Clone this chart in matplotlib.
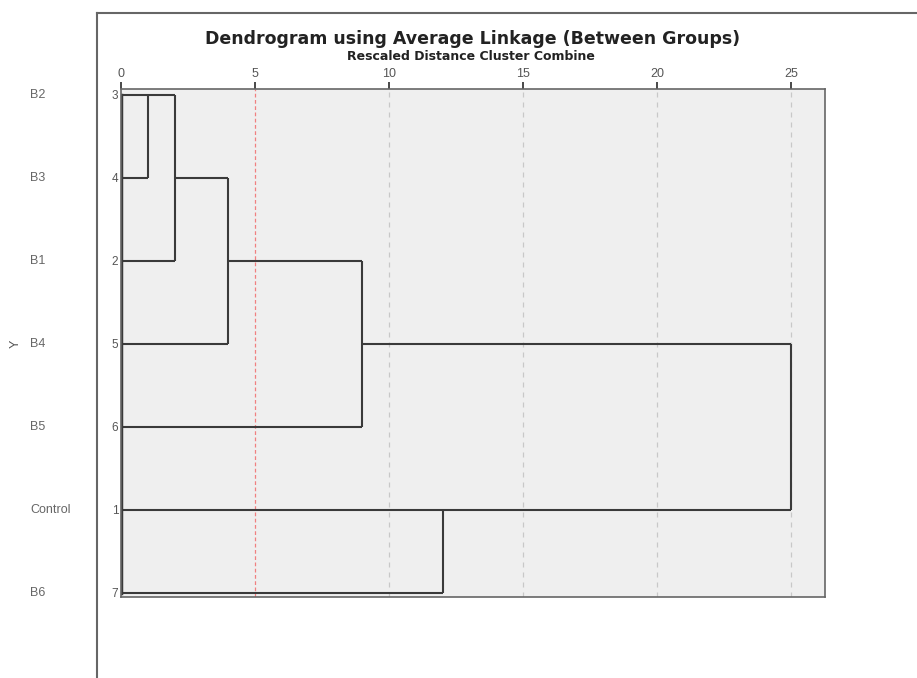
import matplotlib.pyplot as plt
import matplotlib.transforms as mtransforms
from matplotlib.lines import Line2D

# leaf order top to bottom
labels = ['B2', 'B3', 'B1', 'B4', 'B5', 'Control', 'B6']
case_nums = ['3', '4', '2', '5', '6', '1', '7']

# merges: height, rows joined, row where the new cluster continues
merge_height = [1, 2, 4, 9, 12, 25]
merge_top_row = [0, 0, 1, 2, 5, 3]
merge_bot_row = [1, 2, 3, 4, 6, 5]
merge_out_row = [0, 1, 2, 3, 5, 3]

x_ticks = [0, 5, 10, 15, 20, 25]

line_col = '#3a3a3a'
text_col = '#555555'
plt.rcParams['font.family'] = ['Liberation Sans', 'DejaVu Sans']

fig = plt.figure(figsize=(9.17, 6.78), dpi=100)
ax = fig.add_axes([121 / 917, 1 - 597 / 678, (825 - 121) / 917, (597 - 89) / 678])
ax.set_facecolor('#efefef')

# dendrogram lines
cur = [0.0] * len(labels)
for h, a, b, o in zip(merge_height, merge_top_row, merge_bot_row, merge_out_row):
    ax.plot([cur[a], h], [a, a], color=line_col, lw=1.5, solid_capstyle='butt')
    ax.plot([cur[b], h], [b, b], color=line_col, lw=1.5, solid_capstyle='butt')
    ax.plot([h, h], [a, b], color=line_col, lw=1.5, solid_capstyle='butt')
    cur[o] = h
ax.plot([0, 0], [0, len(labels) - 1], color=line_col, lw=2.5)

# grid and cut line
for t in x_ticks[2:]:
    ax.axvline(t, color='#c8c8c8', lw=0.9, ls=(0, (4, 4)), zorder=0.5)
ax.axvline(5, color='#f08080', lw=0.9, ls=(0, (3, 2)), zorder=0.5)

ax.set_xlim(0, 26.27)
ax.set_ylim(len(labels) - 1 + 0.05, -0.07)
ax.xaxis.tick_top()
ax.set_xticks(x_ticks)
ax.set_xticklabels([str(t) for t in x_ticks], fontsize=9, color=text_col)
ax.tick_params(axis='x', length=5, width=1.3, color=line_col, pad=1.5)
ax.set_yticks(range(len(labels)))
ax.set_yticklabels(case_nums, fontsize=8.5, color=text_col)
ax.tick_params(axis='y', length=0, pad=2)
for s in ax.spines.values():
    s.set_color('#666666')
    s.set_linewidth(1.2)

# leaf names outside the outer frame
trans = mtransforms.blended_transform_factory(fig.transFigure, ax.transData)
for i, name in enumerate(labels):
    ax.text(30 / 917, i, name, transform=trans, fontsize=9, color='#666666',
            ha='left', va='center', clip_on=False)
ax.text(16 / 917, 3, 'Y', transform=trans, fontsize=9, color=text_col,
        rotation=90, ha='center', va='center', clip_on=False)

# outer frame
fig.add_artist(Line2D([97 / 917, 97 / 917], [0, 1 - 13 / 678], color='#666666', lw=1.5))
fig.add_artist(Line2D([97 / 917, 1], [1 - 13 / 678, 1 - 13 / 678], color='#666666', lw=1.5))

fig.text(473 / 917, 1 - 39 / 678, 'Dendrogram using Average Linkage (Between Groups)',
         fontsize=12.5, fontweight='bold', color='#222222', ha='center', va='center',
         family='DejaVu Sans')
fig.text(471 / 917, 1 - 56 / 678, 'Rescaled Distance Cluster Combine',
         fontsize=9, fontweight='bold', color='#222222', ha='center', va='center',
         family='DejaVu Sans')

fig.savefig('out.png', dpi=100)
